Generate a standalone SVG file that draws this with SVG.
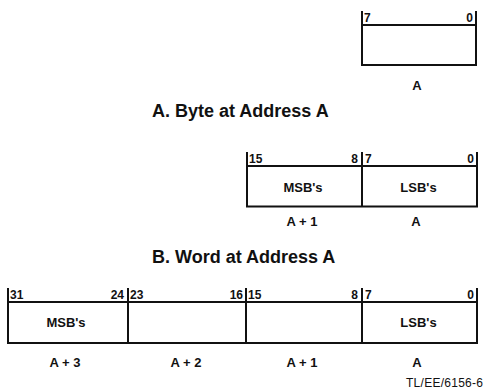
<svg xmlns="http://www.w3.org/2000/svg" width="489" height="389" viewBox="0 0 489 389">
<style>
.ln{stroke:#111;stroke-width:2;fill:none;stroke-linecap:square}
.bit{font-family:"Liberation Sans",Arial,sans-serif;font-weight:bold;font-size:12px;fill:#111}
.lbl{font-family:"Liberation Sans",Arial,sans-serif;font-weight:bold;font-size:13px;fill:#111;text-anchor:middle}
.ttl{font-family:"Liberation Sans",Arial,sans-serif;font-weight:bold;font-size:18px;fill:#111}
.note{font-family:"Liberation Sans",Arial,sans-serif;font-size:12px;fill:#111}
.r{text-anchor:end}
</style>
<rect width="489" height="389" fill="#fff"/>
<g id="byte">
<path class="ln" d="M362,12V65M476,12V65M362,25H476M362,65H476"/>
<text class="bit" x="364" y="22">7</text>
<text class="bit r" x="473" y="22">0</text>
<text class="lbl" x="417" y="89.5">A</text>
</g>
<g id="title-a"><text class="ttl" x="152" y="117">A. Byte at Address A</text></g>
<g id="word">
<path class="ln" d="M247,153V206.5M362,153V206.5M477,153V206.5M247,166H477M247,206.5H477"/>
<text class="bit" x="249" y="162.5">15</text>
<text class="bit r" x="358" y="162.5">8</text>
<text class="bit" x="365" y="162.5">7</text>
<text class="bit r" x="474" y="162.5">0</text>
<text class="lbl" x="303" y="192">MSB's</text>
<text class="lbl" x="418.5" y="192">LSB's</text>
<text class="lbl" x="302" y="226">A + 1</text>
<text class="lbl" x="416" y="226">A</text>
</g>
<g id="title-b"><text class="ttl" x="152" y="262.5">B. Word at Address A</text></g>
<g id="dword">
<path class="ln" d="M8,289V343M128,289V343M246,289V343M362,289V343M477,289V343M8,302H477M8,343H477"/>
<text class="bit" x="10" y="298.5">31</text>
<text class="bit r" x="124" y="298.5">24</text>
<text class="bit" x="130" y="298.5">23</text>
<text class="bit r" x="243" y="298.5">16</text>
<text class="bit" x="248" y="298.5">15</text>
<text class="bit r" x="358" y="298.5">8</text>
<text class="bit" x="365" y="298.5">7</text>
<text class="bit r" x="474" y="298.5">0</text>
<text class="lbl" x="66" y="327">MSB's</text>
<text class="lbl" x="418.5" y="327">LSB's</text>
<text class="lbl" x="65" y="366.5">A + 3</text>
<text class="lbl" x="186" y="366.5">A + 2</text>
<text class="lbl" x="302" y="366.5">A + 1</text>
<text class="lbl" x="417" y="366.5">A</text>
</g>
<g id="footnote"><text class="note" x="406" y="387" textLength="77" lengthAdjust="spacing">TL/EE/6156-6</text></g>
</svg>
